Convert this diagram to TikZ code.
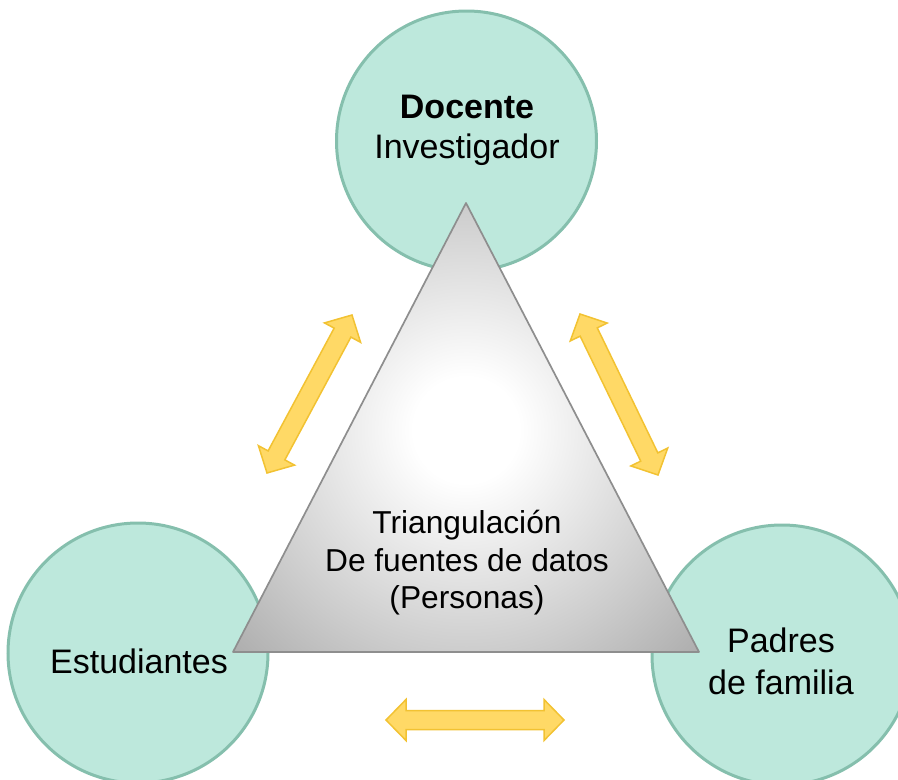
\documentclass[tikz,border=0pt]{standalone}
\usepackage{fontspec}
\setmainfont{Liberation Sans}
\usetikzlibrary{calc}
\definecolor{circfill}{HTML}{BDE8DC}
\definecolor{circline}{HTML}{85BFAD}
\definecolor{arrfill}{HTML}{FFD966}
\definecolor{arrline}{HTML}{F2C232}
\definecolor{triline}{HTML}{8E8E8E}
\pgfdeclareradialshading{trishade}{\pgfpoint{0bp}{0bp}}{color(0bp)=(white); color(4bp)=(white); color(17bp)=(gray!40); color(25bp)=(gray!66); color(50bp)=(gray!66)}
\newcommand\yellowdblarrow[2]{%
  \coordinate (#1h) at ($(#1)!20pt!(#2)$);
  \coordinate (#2h) at ($(#2)!20pt!(#1)$);
  \draw[dblarrow] (#1) -- ($(#1h)!20.5pt!90:(#2)$) -- ($(#1h)!9.5pt!90:(#2)$)
    -- ($(#2h)!9.5pt!-90:(#1)$) -- ($(#2h)!20.5pt!-90:(#1)$) -- (#2)
    -- ($(#2h)!20.5pt!90:(#1)$) -- ($(#2h)!9.5pt!90:(#1)$)
    -- ($(#1h)!9.5pt!-90:(#2)$) -- ($(#1h)!20.5pt!-90:(#2)$) -- cycle;}
\begin{document}
\begin{tikzpicture}[x=1pt,y=-1pt,
  circ/.style={circle, draw=circline, fill=circfill, line width=3pt, minimum size=260pt, inner sep=0pt},
  ctext/.style={anchor=base, font=\fontsize{34}{40}\selectfont, inner sep=0pt},
  ttext/.style={anchor=base, font=\fontsize{31.7}{38}\selectfont, inner sep=0pt},
  dblarrow/.style={fill=arrfill, draw=arrline, line width=1.5pt, line join=miter}]
\useasboundingbox (0,0) rectangle (898,780);
\clip (0,0) rectangle (898,780);
% circles
\node[circ] (doc) at (466.5,141) {};
\node[circ] (est) at (138,653) {};
\node[circ] (pad) at (782,655) {};
% triangle
\coordinate (T1) at (466,203);
\coordinate (T2) at (233,652);
\coordinate (T3) at (699,652);
\begin{scope}
  \clip (T1) -- (T2) -- (T3) -- cycle;
  \shade[shading=trishade] (466,430) circle (330);
\end{scope}
\draw[triline, line width=1.7pt, line join=round] (T1) -- (T2) -- (T3) -- cycle;
% arrows
\coordinate (LA) at (267,473);
\coordinate (LB) at (352,315);
\coordinate (RA) at (580,314);
\coordinate (RB) at (658,475);
\coordinate (BA) at (386,720);
\coordinate (BB) at (564,720);
\yellowdblarrow{LA}{LB}
\yellowdblarrow{RA}{RB}
\yellowdblarrow{BA}{BB}
% texts
\node[ctext, font=\fontsize{34}{40}\selectfont\bfseries] (docA) at (467,118) {Docente};
\node[ctext] (docB) at (467,158) {Investigador};
\node[ctext] (estT) at (139,673) {Estudiantes};
\node[ctext] (padA) at (781,652) {Padres};
\node[ctext] (padB) at (781,694) {de familia};
\node[ttext] (triA) at (467,533) {Triangulación};
\node[ttext] (triB) at (467,571) {De fuentes de datos};
\node[ttext] (triC) at (467,608) {(Personas)};
\end{tikzpicture}
\end{document}
